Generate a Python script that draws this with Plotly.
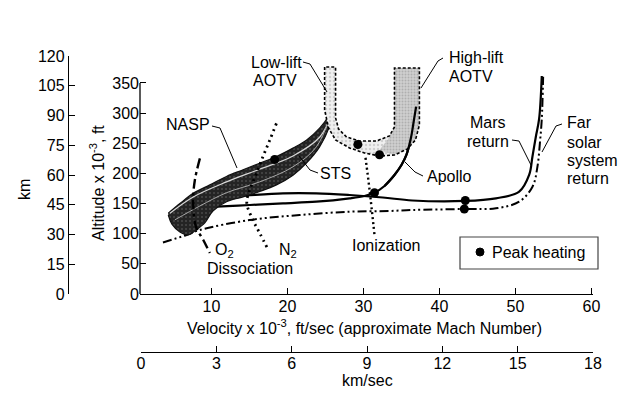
import plotly.graph_objects as go

# ---------------- data (velocity in 1000 ft/s, altitude in 1000 ft) ----------------
vel_ticks = [10, 20, 30, 40, 50, 60]
kms_ticks = [0, 3, 6, 9, 12, 15, 18]
ft_ticks = [0, 50, 100, 150, 200, 250, 300, 350]
km_ticks = [0, 15, 30, 45, 60, 75, 90, 105, 120]

band_upper_v = [4.32, 5.85, 7.60, 9.79, 11.98, 14.16, 16.35, 18.55, 20.73, 22.49, 24.23, 25.54, 26.20]
band_upper_h = [134, 150, 167, 181, 195, 206, 217, 228, 242, 255, 275, 297, 313]
band_lower_v = [26.20, 25.54, 24.23, 22.49, 20.73, 18.55, 16.35, 14.16, 11.98, 10.22, 9.13, 7.95, 6.90, 5.85, 4.80, 4.32]
band_lower_h = [311, 278, 244, 217, 197, 181, 170, 161, 153, 138, 118, 106, 98, 103, 116, 131]

nasp_v = [4.54, 7.60, 11.98, 16.35, 20.73, 24.23, 25.94]
nasp_h = [134, 161, 186, 207, 229, 260, 302]
sts_v = [5.19, 8.48, 11.98, 16.35, 20.73, 23.80, 25.54]
sts_h = [123, 146, 168, 186, 211, 244, 292]

u_outer_v = [24.89, 24.89, 25.41, 26.33, 28.17, 30.14, 32.11, 34.08, 35.78, 36.84, 37.36, 37.36]
u_outer_h = [376.5, 305.2, 275.3, 255.4, 242.2, 233.9, 228.9, 230.6, 240.5, 255.4, 280.3, 374.9]
u_inner_v = [34.08, 34.08, 33.42, 31.71, 29.48, 27.78, 26.73, 26.33, 26.33]
u_inner_h = [374.9, 277.0, 262.1, 253.8, 253.8, 260.4, 273.7, 291.9, 376.5]
hi_v = [34.08, 34.08, 33.16, 32.11, 34.08, 35.78, 36.84, 37.36, 37.36]
hi_h = [374.9, 277.0, 255.4, 238.9, 230.6, 240.5, 255.4, 280.3, 374.9]

apollo_v = [8.48, 10.67, 15.04, 19.41, 23.80, 28.17, 30.14, 31.45, 32.77, 34.08, 35.00, 35.65, 36.27, 36.64, 36.93]
apollo_h = [143.5, 144.8, 147.6, 150.4, 153.1, 158.7, 162.6, 168.0, 179.1, 197.4, 214.0, 230.6, 260.4, 288.6, 310.7]

mars_v = [11.76, 14.61, 19.41, 23.80, 28.17, 32.54, 36.44, 43.40, 47.43, 50.49, 51.80, 52.23, 52.68, 53.11, 53.46]
mars_h = [160.9, 163.4, 167.0, 167.0, 164.2, 160.1, 155.1, 154.3, 158.7, 169.7, 197.4, 227.7, 260.9, 290.3, 361.6]

far_v = [3.62, 6.73, 8.48, 15.04, 21.61, 28.17, 33.42, 36.44, 43.27, 47.43, 50.49, 52.24, 52.89, 53.21, 53.46, 53.64]
far_h = [85.4, 97.9, 106.2, 122.7, 131.0, 136.5, 137.7, 139.3, 141.0, 142.2, 153.1, 178.0, 211.2, 250.0, 290.3, 360.4]

o2_v = [8.48, 7.82, 7.60, 7.95, 8.91, 9.79]
o2_h = [225, 189, 156, 112, 90, 68]
n2_v = [18.55, 17.67, 16.75, 15.83, 15.04, 14.65, 15.44, 16.35, 17.40]
n2_h = [283, 255, 227, 197, 173, 151, 123, 101, 75]
ion_v = [30.27, 30.80, 31.45]
ion_h = [226, 173, 98]

peak_v = [18.32, 29.26, 32.11, 31.45, 43.40, 43.27]
peak_h = [223, 248, 231, 168, 155, 141]

# ---------------- figure ----------------
OFF = 8                      # default page body margin
W, H = 640 - 2 * OFF, 396 - 2 * OFF
FONT = "Liberation Sans, Arial, sans-serif"
FS = 16


def PX(x):
    return (x - OFF) / W


def PY(y):
    return 1 - (y - OFF) / H


fig = go.Figure()

# trajectories (under the NASP/STS band)
fig.add_trace(go.Scatter(x=far_v, y=far_h, mode="lines", line_shape="spline",
                         line=dict(color="black", width=2, dash="9px,3px,2px,3px,2px,3px")))
fig.add_trace(go.Scatter(x=mars_v, y=mars_h, mode="lines", line_shape="spline",
                         line=dict(color="black", width=2.2)))
fig.add_trace(go.Scatter(x=apollo_v, y=apollo_h, mode="lines", line_shape="spline",
                         line=dict(color="black", width=2.2)))

# NASP / STS band
fig.add_trace(go.Scatter(x=band_upper_v + band_lower_v, y=band_upper_h + band_lower_h,
                         mode="lines", line_shape="spline", fill="toself",
                         fillcolor="#262626",
                         fillpattern=dict(shape=".", bgcolor="#242424", fgcolor="#6e6e6e",
                                          size=4, solidity=0.2),
                         line=dict(color="#111", width=1.2)))
fig.add_trace(go.Scatter(x=nasp_v, y=nasp_h, mode="lines", line_shape="spline",
                         line=dict(color="#d8d8d8", width=1.2)))
fig.add_trace(go.Scatter(x=sts_v, y=sts_h, mode="lines", line_shape="spline",
                         line=dict(color="#a8a8a8", width=1)))

# AOTV corridor
fig.add_trace(go.Scatter(x=u_outer_v + u_inner_v, y=u_outer_h + u_inner_h,
                         mode="lines", fill="toself",
                         fillcolor="#ececec",
                         fillpattern=dict(shape=".", bgcolor="#f0f0f0", fgcolor="#b0b0b0",
                                          size=4, solidity=0.3),
                         line=dict(width=0)))
fig.add_trace(go.Scatter(x=hi_v, y=hi_h, mode="lines", fill="toself",
                         fillcolor="#c4c4c4",
                         fillpattern=dict(shape=".", bgcolor="#cfcfcf", fgcolor="#8f8f8f",
                                          size=3, solidity=0.35),
                         line=dict(width=0)))
fig.add_trace(go.Scatter(x=u_outer_v + u_inner_v + u_outer_v[:1], y=u_outer_h + u_inner_h + u_outer_h[:1],
                         mode="lines",
                         line=dict(color="black", width=1.6, dash="3px,2px")))
# Apollo top part over the corridor
fig.add_trace(go.Scatter(x=apollo_v[8:], y=apollo_h[8:], mode="lines", line_shape="spline",
                         line=dict(color="black", width=2.2)))

# dissociation / ionization boundaries
fig.add_trace(go.Scatter(x=o2_v, y=o2_h, mode="lines", line_shape="spline",
                         line=dict(color="black", width=2.4, dash="10px,4px,3px,4px")))
fig.add_trace(go.Scatter(x=n2_v, y=n2_h, mode="lines", line_shape="spline",
                         line=dict(color="black", width=2.8, dash="2px,4px")))
fig.add_trace(go.Scatter(x=ion_v, y=ion_h, mode="lines", line_shape="spline",
                         line=dict(color="black", width=2.4, dash="2px,3px")))

# peak heating points
fig.add_trace(go.Scatter(x=peak_v, y=peak_h, mode="markers",
                         marker=dict(color="black", size=9)))

# dummy traces to show the secondary axes
fig.add_trace(go.Scatter(x=[30], y=[60], xaxis="x", yaxis="y2", mode="markers",
                         marker=dict(opacity=0), hoverinfo="skip"))
fig.add_trace(go.Scatter(x=[9], y=[100], xaxis="x2", yaxis="y", mode="markers",
                         marker=dict(opacity=0), hoverinfo="skip"))

# ---------------- axes ----------------
x0p, x1p = 140, 593
y0p, y1p = 294, 55
common = dict(showgrid=False, zeroline=False, ticks="inside", ticklen=6, tickwidth=1.2,
              tickcolor="black", color="black", automargin=False,
              tickfont=dict(family=FONT, size=FS, color="black"))

fig.update_layout(
    width=W, height=H, margin=dict(l=0, r=0, t=0, b=0, pad=0, autoexpand=False),
    paper_bgcolor="white", plot_bgcolor="rgba(0,0,0,0)", showlegend=False,
    font=dict(family=FONT, size=FS, color="black"),
    xaxis=dict(domain=[PX(x0p), PX(x1p)], range=[0.6, 60.2], tickvals=vel_ticks,
               showline=True, linecolor="black", linewidth=1.3, anchor="y",
               ticklabelstandoff=-2, **common),
    yaxis=dict(domain=[PY(y0p), PY(y1p)], range=[0, (y0p - y1p) / 0.6029], tickvals=ft_ticks,
               showline=False, anchor="x", **common),
    xaxis2=dict(domain=[PX(141), PX(593)], range=[0, 18], tickvals=kms_ticks,
                anchor="free", position=PY(352), showline=True, linecolor="black",
                linewidth=1.3, ticklabelstandoff=-3, **common),
    yaxis2=dict(domain=[PY(294), PY(56)], range=[0, 120], tickvals=km_ticks,
                anchor="free", position=PX(68), showline=True, linecolor="black",
                linewidth=1.3, **common),
)

# left ft axis line (0..350 only)
fig.add_shape(type="line", xref="x domain", yref="y", x0=0, x1=0, y0=0, y1=350,
              line=dict(color="black", width=1.3))


# ---------------- labels ----------------
def label(text, xp, yp, xanchor="center", angle=0, size=FS):
    fig.add_annotation(text=text, x=PX(xp), y=PY(yp), xref="paper", yref="paper",
                       showarrow=False, xanchor=xanchor, yanchor="middle", textangle=angle,
                       font=dict(family=FONT, size=size, color="black"))


def leader(points, width=1):
    d = "M " + " L ".join(f"{PX(a):.5f},{PY(b):.5f}" for a, b in points)
    fig.add_shape(type="path", path=d, xref="paper", yref="paper",
                  line=dict(color="black", width=width))


label("km", 25, 190, angle=-90)
label("Altitude x 10<sup>-3</sup>, ft", 97, 183, angle=-90)
label("Velocity x 10<sup>-3</sup>, ft/sec (approximate Mach Number)", 364, 327)
label("km/sec", 367, 380)

label("NASP", 188, 125)
leader([(212, 126), (220, 128), (237, 168)])
label("STS", 335, 173)
leader([(318, 173), (310, 170), (299, 156)])
label("Low-lift", 276, 62)
label("AOTV", 275, 80)
leader([(303, 62), (310, 64), (327, 92)])
label("High-lift", 447, 58, xanchor="left")
label("AOTV", 447, 76, xanchor="left")
leader([(443, 58), (438, 61), (421, 88)])
label("Apollo", 425, 176, xanchor="left")
leader([(423, 176), (415, 172), (405, 162)])
label("Mars", 488, 123)
label("return", 488, 141)
leader([(512, 140), (519, 141), (531, 165)])
label("Far", 565, 123, xanchor="left")
label("solar", 565, 142, xanchor="left")
label("system", 565, 160, xanchor="left")
label("return", 565, 178, xanchor="left")
leader([(562, 124), (556, 126), (542, 152)])
label("O<sub>2</sub>", 224, 250)
label("N<sub>2</sub>", 288, 250)
label("Dissociation", 250, 268)
label("Ionization", 387, 245)

# Peak heating legend box
fig.add_shape(type="rect", xref="paper", yref="paper", x0=PX(460), x1=PX(598),
              y0=PY(237), y1=PY(269), line=dict(color="#444", width=1.2))
fig.add_shape(type="circle", xref="paper", yref="paper", x0=PX(476), x1=PX(484),
              y0=PY(256), y1=PY(248), fillcolor="black", line=dict(color="black", width=1))
label("Peak heating", 490, 252, xanchor="left")

fig.write_html("out.html")
